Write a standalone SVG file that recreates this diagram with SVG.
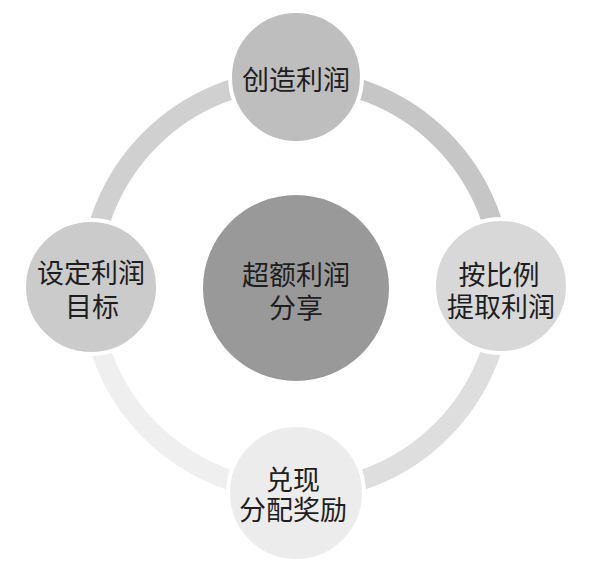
<svg xmlns="http://www.w3.org/2000/svg" width="593" height="570" viewBox="0 0 593 570">
<style>
.arc{fill:none;stroke-width:20}
.node{stroke:#ffffff;stroke-width:4}
.t{font-family:"Noto Sans CJK SC","Noto Sans",sans-serif;font-size:27px;fill:#1e1e1e;text-anchor:middle}
</style>
<rect width="593" height="570" fill="#ffffff"/>
<g id="connectors">
<path class="arc" stroke="#d0d0d0" d="M 90 285 A 206 206 0 0 1 296 79"/>
<path class="arc" stroke="#c6c6c6" d="M 296 79 A 206 206 0 0 1 502 285"/>
<path class="arc" stroke="#dedede" d="M 502 285 A 206 206 0 0 1 296 491"/>
<path class="arc" stroke="#efefef" d="M 296 491 A 206 206 0 0 1 90 285"/>
</g>
<g id="node-center">
<circle class="node" cx="296" cy="288" r="95" fill="#999999"/>
<text class="t" x="296" y="285">超额利润</text>
<text class="t" x="296" y="318">分享</text>
</g>
<g id="node-top">
<circle class="node" cx="296" cy="77" r="66" fill="#bebebe"/>
<text class="t" x="296" y="90">创造利润</text>
</g>
<g id="node-left">
<circle class="node" cx="91" cy="287" r="67" fill="#cbcbcb"/>
<text class="t" x="91" y="283">设定利润</text>
<text class="t" x="92" y="317">目标</text>
</g>
<g id="node-right">
<circle class="node" cx="501" cy="286" r="67" fill="#d8d8d8"/>
<text class="t" x="499" y="285">按比例</text>
<text class="t" x="501" y="317">提取利润</text>
</g>
<g id="node-bottom">
<circle class="node" cx="296" cy="493" r="68" fill="#ececec"/>
<text class="t" x="293" y="490">兑现</text>
<text class="t" x="293" y="520">分配奖励</text>
</g>
</svg>
